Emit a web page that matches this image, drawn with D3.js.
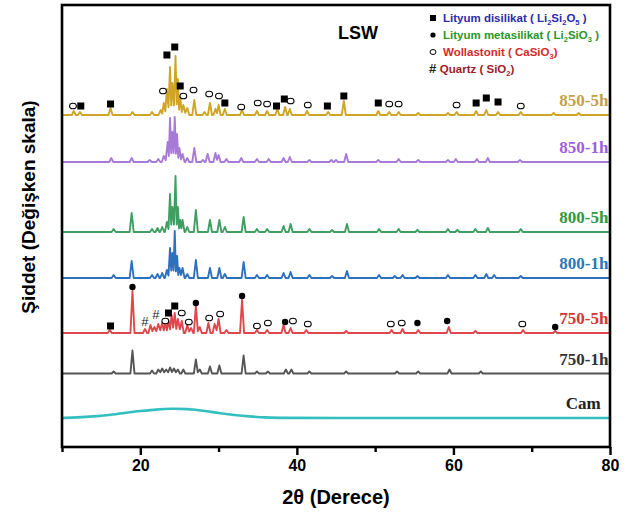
<!DOCTYPE html>
<html>
<head>
<meta charset="utf-8">
<script src="https://cdn.jsdelivr.net/npm/d3@7"></script>
<style>
  body { margin: 0; background: #fff; }
</style>
</head>
<body>
<script>
width  = 631
height = 521

// peak lists [2theta, intensity above the series baseline]
const peaks850_5h = [[11.5,4],[12.3,3],[16.2,7],[19.0,3],[21.5,3],[22.6,5],[23.0,12],[23.4,26],[23.8,48],[24.1,32],[24.5,59],[24.8,36],[25.1,18],[25.5,10],[26.0,7],[26.9,15],[28.2,3],[28.9,12],[29.6,6],[30.0,10],[30.8,6],[33.0,5],[34.9,4],[36.2,4],[37.5,6],[38.5,8],[39.1,6],[41.3,4],[44.0,3],[46.0,14],[50.4,4],[51.8,3],[53.0,3],[55.5,2],[59.3,2],[60.4,3],[62.9,4],[64.2,5],[65.7,3],[68.6,3],[72.8,2],[76.0,2]];
const peaks850_1h = [[16.3,4],[18.9,4],[21.2,2],[22.3,3],[23.0,6],[23.5,20],[23.8,44],[24.1,30],[24.4,45],[24.7,28],[25.0,14],[25.4,8],[26.0,4],[26.9,14],[28.0,2],[28.6,8],[29.6,9],[30.0,7],[31.0,3],[32.9,4],[34.9,3],[36.4,3],[38.3,4],[39.1,5],[41.6,2],[44.4,2],[45.0,2],[46.3,8],[50.4,2],[53.0,3],[55.5,2],[59.3,2],[60.3,3],[63.0,3],[64.4,4],[68.5,2]];
const peaks800_5h = [[16.6,3],[18.9,19],[21.5,3],[22.2,4],[22.8,5],[23.4,10],[23.8,38],[24.1,25],[24.5,56],[24.8,25],[25.1,12],[25.4,12],[26.0,5],[27.1,22],[28.9,12],[30.1,12],[30.8,5],[33.2,15],[34.9,3],[36.2,3],[38.3,6],[39.2,8],[41.6,3],[44.5,2],[46.4,8],[50.5,3],[53.0,3],[55.4,2],[59.3,3],[60.5,2],[62.8,3],[64.4,4],[68.6,3]];
const peaks800_1h = [[16.6,3],[18.9,17],[21.5,3],[22.2,4],[22.8,5],[23.4,8],[23.8,30],[24.1,25],[24.4,47],[24.7,22],[25.0,10],[25.4,10],[26.0,4],[27.1,18],[28.9,10],[30.1,10],[30.8,4],[33.2,16],[34.9,3],[36.2,3],[38.3,5],[39.2,6],[41.6,3],[44.5,2],[46.4,7],[50.5,3],[52.5,2],[53.5,3],[55.4,2],[59.3,3],[62.8,3],[64.2,4],[65.2,3],[68.6,2]];
const peaks750_5h = [[16.1,3],[19.0,42],[20.6,4],[21.3,8],[21.8,6],[22.3,9],[22.8,10],[23.2,9],[23.6,12],[24.0,18],[24.4,20],[24.8,14],[25.3,12],[26.0,8],[26.5,5],[27.1,27],[27.6,6],[28.7,10],[29.5,9],[30.0,14],[31.0,3],[33.0,33],[34.9,3],[36.2,3],[38.3,8],[39.2,5],[41.2,3],[46.3,2],[52.1,3],[53.5,4],[55.5,3],[59.4,6],[62.8,2],[68.9,3],[73.0,2]];
const peaks750_1h = [[16.6,2],[19.0,23],[21.5,3],[22.3,4],[22.8,5],[23.3,4],[23.8,6],[24.3,5],[24.8,4],[25.5,4],[27.1,14],[27.6,4],[28.9,7],[30.1,8],[33.2,18],[34.9,2],[36.3,2],[38.6,4],[39.3,4],[41.6,2],[46.3,2],[52.8,2],[55.5,2],[59.5,4],[63.5,2]];
// glass: broad amorphous hump
const camTheta = [10, 12, 14, 16, 18, 20, 22, 24, 26, 28, 30, 32, 34, 36, 38, 45, 55, 65, 80];
const camInt   = [0, 0.5, 1.5, 3, 5, 7, 8.5, 9.5, 9, 7.5, 5, 3, 1.5, 0.5, 0, 0, 0, 0, 0];

const sampleNames = ["850-5h", "850-1h", "800-5h", "800-1h", "750-5h", "750-1h", "Cam"];
const sampleOffsets = [332, 285, 215, 169, 114, 73.5, 29];   // stacking offsets (a.u.)
const samplePeaks = [peaks850_5h, peaks850_1h, peaks800_5h, peaks800_1h, peaks750_5h, peaks750_1h, null];
const lineColors  = ["#d0a526", "#a87ad8", "#3f9f62", "#2f6fc0", "#e0474c", "#555555", "#33bfbf"];
const labelColors = ["#c4a04c", "#a05fe0", "#2f9a3c", "#2a78b8", "#d43535", "#333333", "#222222"];

// phase markers [2theta, intensity] on the 850-5h and 750-5h patterns
const squareMarks = [[12.4,341],[16.2,343],[23.4,392],[24.4,400],[25.1,361],[30.8,344],[37.4,341],[38.4,348],[43.9,341],[46.0,351],[50.4,344],[62.9,344],[64.2,349],[65.7,345],
                     [16.2,121],[23.6,134],[24.4,141]];
const dotMarks    = [[19.0,160],[27.1,144],[33.0,151],[38.5,125],[55.4,124],[59.2,126],[73.0,120]];
const ringMarks   = [[11.4,341],[22.9,356],[25.5,351],[26.8,357],[28.8,353],[30.05,351],[32.9,340],[35.0,344],[36.2,343],[39.2,346],[41.4,342],[51.8,343],[53.0,343],[60.4,342],[68.6,341],
                     [23.2,126],[25.3,134],[26.2,125],[28.8,129],[30.2,133],[34.9,121],[36.3,124],[39.5,126],[41.4,123],[52.0,123],[53.4,124],[68.8,123]];
const hashMarks   = [[20.6,125],[22.0,132]];

const xTicks = [10, 20, 30, 40, 50, 60, 70, 80];

const sans  = '"Liberation Sans", Arial, sans-serif';
const serif = '"Liberation Serif", "Times New Roman", serif';

const x = d3.scaleLinear().domain([10, 80]).range([62, 610]);
const y = d3.scaleLinear().domain([0, 442]).range([447, 5]);

const svg = d3.select('body').append('svg')
  .attr('width', width)
  .attr('height', height)
  .style('font-family', sans);

// turn a peak list into a polyline of feet / apexes
function peakProfile(list) {
  const w = 0.26;
  const pts = [[10, 0]];
  list.forEach((p, i) => {
    const prev = list[i - 1], next = list[i + 1];
    if (!prev || p[0] - prev[0] >= 2 * w) pts.push([p[0] - w, 0]);
    pts.push([p[0], p[1]]);
    if (next && next[0] - p[0] < 2 * w) {
      pts.push([(p[0] + next[0]) / 2, Math.min(p[1], next[1]) * 0.3]);
    } else {
      pts.push([p[0] + w, 0]);
    }
  });
  pts.push([80, 0]);
  return pts;
}

const line = d3.line().x(d => x(d[0])).y(d => y(d[1]));

const curves = svg.append('g').attr('fill', 'none');

sampleNames.forEach((name, i) => {
  const off = sampleOffsets[i];
  let pts, gen = line;
  if (samplePeaks[i]) {
    pts = peakProfile(samplePeaks[i]).map(d => [d[0], d[1] + off]);
  } else {
    pts = camTheta.map((t, j) => [t, camInt[j] + off]);
    gen = d3.line().x(d => x(d[0])).y(d => y(d[1])).curve(d3.curveBasis);
  }
  curves.append('path')
    .attr('d', gen(pts))
    .attr('stroke', lineColors[i])
    .attr('stroke-width', i === 6 ? 2.6 : 1.9)
    .attr('stroke-linejoin', 'round');

  svg.append('text')
    .attr('x', x(i === 6 ? 78.8 : 79.8))
    .attr('y', y(off) - 9)
    .attr('text-anchor', 'end')
    .style('font-family', serif)
    .attr('font-weight', 'bold')
    .attr('font-size', 17)
    .attr('fill', labelColors[i])
    .text(name);
});

// markers
const marks = svg.append('g');
marks.selectAll('rect.sq').data(squareMarks).enter().append('rect')
  .attr('x', d => x(d[0]) - 3.5).attr('y', d => y(d[1]) - 3.5)
  .attr('width', 7).attr('height', 7).attr('fill', '#000');
marks.selectAll('circle.dot').data(dotMarks).enter().append('circle')
  .attr('cx', d => x(d[0])).attr('cy', d => y(d[1])).attr('r', 3.2).attr('fill', '#000');
marks.selectAll('ellipse').data(ringMarks).enter().append('ellipse')
  .attr('cx', d => x(d[0])).attr('cy', d => y(d[1])).attr('rx', 3.4).attr('ry', 2.8)
  .attr('fill', '#fff').attr('stroke', '#000').attr('stroke-width', 1.1);
marks.selectAll('text').data(hashMarks).enter().append('text')
  .attr('x', d => x(d[0])).attr('y', d => y(d[1]) + 4)
  .attr('text-anchor', 'middle').attr('font-size', 13).attr('fill', '#222')
  .text('#');

// frame
svg.append('rect')
  .attr('x', x(10)).attr('y', y(442))
  .attr('width', x(80) - x(10)).attr('height', y(0) - y(442))
  .attr('fill', 'none').attr('stroke', '#000').attr('stroke-width', 2.6);

// x axis
const xAxis = svg.append('g')
  .attr('transform', `translate(0,${y(0)})`)
  .call(d3.axisBottom(x).tickValues(xTicks).tickSizeOuter(0)
    .tickFormat(d => d % 20 === 0 && d > 10 ? d : ''));
xAxis.select('.domain').remove();
xAxis.selectAll('.tick line')
  .attr('stroke', '#000').attr('stroke-width', 2.4)
  .attr('y2', d => d % 20 === 0 ? 8 : 5);
xAxis.selectAll('.tick text')
  .attr('y', 13)
  .style('font-family', sans)
  .attr('font-weight', 'bold').attr('font-size', 16).attr('fill', '#000');

svg.append('text')
  .attr('x', (x(10) + x(80)) / 2).attr('y', 504)
  .attr('text-anchor', 'middle')
  .attr('font-weight', 'bold').attr('font-size', 20)
  .text('2θ (Derece)');

svg.append('text')
  .attr('transform', 'translate(35,207) rotate(-90)')
  .attr('text-anchor', 'middle')
  .attr('font-weight', 'bold').attr('font-size', 19)
  .text('Şiddet (Değişken skala)');

svg.append('text')
  .attr('x', 338).attr('y', 39)
  .attr('font-weight', 'bold').attr('font-size', 18)
  .text('LSW');

// legend
const legend = svg.append('g').attr('transform', 'translate(433,0)');
const legRows = [
  { sym: 'sq',   y: 18, color: '#2c2ca8', parts: [['Lityum disilikat ( Li'], ['2', 1], ['Si'], ['2', 1], ['O'], ['5', 1], [' )']] },
  { sym: 'dot',  y: 35, color: '#2a962a', parts: [['Lityum metasilikat ( Li'], ['2', 1], ['SiO'], ['3', 1], [' )']] },
  { sym: 'ring', y: 52, color: '#d42a2a', parts: [['Wollastonit ( CaSiO'], ['3', 1], [')']] },
  { sym: 'hash', y: 69, color: '#a01c1c', parts: [['Quartz ( SiO'], ['2', 1], [')']] }
];
legRows.forEach(r => {
  if (r.sym === 'sq') legend.append('rect').attr('x', -3).attr('y', r.y - 3).attr('width', 6).attr('height', 6).attr('fill', '#000');
  if (r.sym === 'dot') legend.append('circle').attr('cx', 0).attr('cy', r.y).attr('r', 2.6).attr('fill', '#000');
  if (r.sym === 'ring') legend.append('ellipse').attr('cx', 0).attr('cy', r.y).attr('rx', 3).attr('ry', 2.5)
    .attr('fill', '#fff').attr('stroke', '#000').attr('stroke-width', 1);
  const t = legend.append('text')
    .attr('x', r.sym === 'hash' ? -4 : 10).attr('y', r.y + 4)
    .attr('font-weight', 'bold').attr('font-size', 11.5).attr('fill', r.color);
  if (r.sym === 'hash') t.append('tspan').attr('fill', '#222').attr('font-size', 13).text('# ');
  let low = false;
  r.parts.forEach(p => {
    const s = t.append('tspan').text(p[0]);
    if (p[1]) { s.attr('font-size', 7.5).attr('dy', 3); low = true; }
    else if (low) { s.attr('dy', -3); low = false; }
  });
});
</script>
</body>
</html>
